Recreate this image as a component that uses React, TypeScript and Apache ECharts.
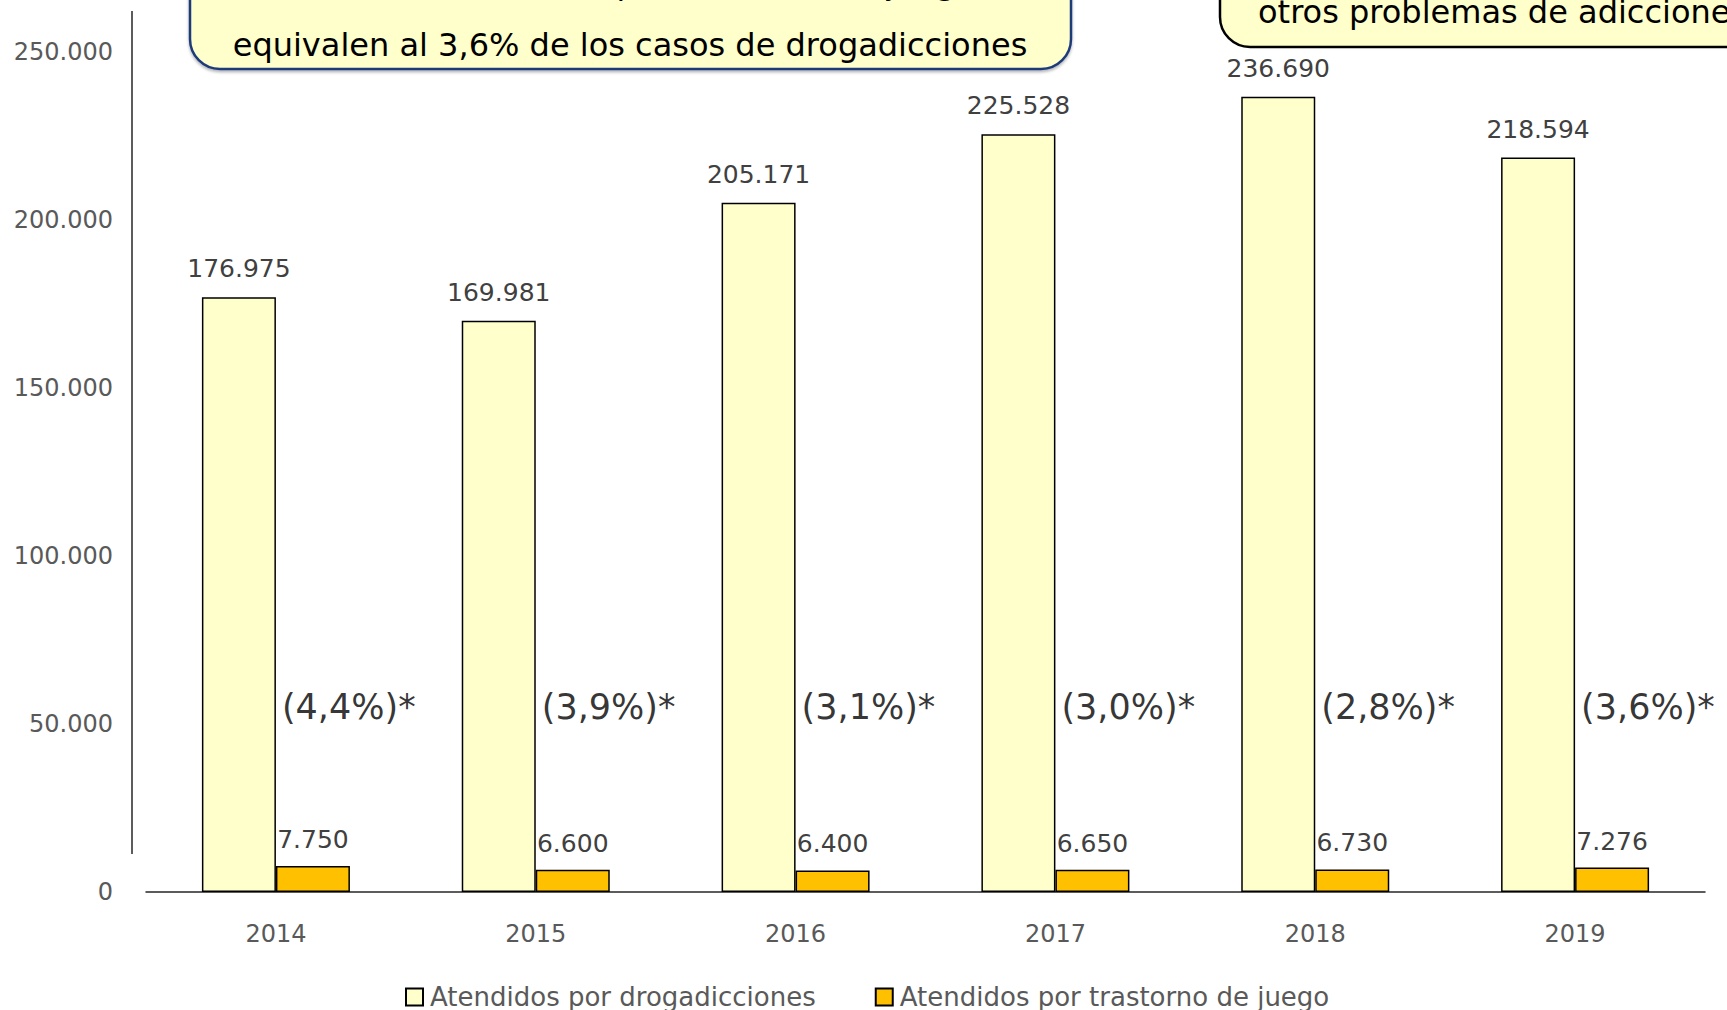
import React, { useEffect, useRef } from "react";
import * as echarts from "echarts";

const years = ["2014", "2015", "2016", "2017", "2018", "2019"];
const drugPatients = [176975, 169981, 205171, 225528, 236690, 218594];
const gamblingPatients = [7750, 6600, 6400, 6650, 6730, 7276];
const shareLabels = ["(4,4%)*", "(3,9%)*", "(3,1%)*", "(3,0%)*", "(2,8%)*", "(3,6%)*"];
const seriesNames = ["Atendidos por drogadicciones", "Atendidos por trastorno de juego"];
const leftBoxLines = ["Los casos atendidos por trastorno de juego", "equivalen al 3,6% de los casos de drogadicciones"];
const rightBoxLine = "otros problemas de adicciones";

const Y_MIN = 0;
const Y_MAX = 250000;
const Y_STEP = 50000;
const SHARE_LEVEL = 55000;

const FONT = "'DejaVu Sans', Verdana, sans-serif";

function fmt(v: number): string {
  return String(Math.round(v)).replace(/\B(?=(\d{3})+(?!\d))/g, ".");
}

export default function App() {
  const ref = useRef<HTMLDivElement>(null);
  useEffect(() => {
    document.body.style.margin = "0";
    const chart = echarts.init(ref.current!, undefined, { renderer: "svg" });
    const option: any = {
      animation: false,
      backgroundColor: "#ffffff",
      textStyle: { fontFamily: FONT },
      grid: { left: 146, right: 22, top: 52, bottom: 118, containLabel: false },
      legend: {
        data: seriesNames,
        left: 400,
        top: 979,
        itemWidth: 17,
        itemHeight: 17,
        itemGap: 59,
        icon: "rect",
        textStyle: { fontFamily: FONT, fontSize: 26, color: "#595959", padding: [0, 0, 0, 2] },
      },
      xAxis: {
        type: "category",
        data: years,
        axisLine: { show: true, lineStyle: { color: "#262626", width: 1.5 } },
        axisTick: { show: false },
        axisLabel: { fontFamily: FONT, fontSize: 24, color: "#595959", margin: 30 },
      },
      yAxis: {
        type: "value",
        min: Y_MIN,
        max: Y_MAX,
        interval: Y_STEP,
        splitLine: { show: false },
        axisLine: { show: false },
        axisTick: { show: false },
        axisLabel: {
          fontFamily: FONT,
          fontSize: 24,
          color: "#595959",
          margin: 33,
          formatter: (v: number) => fmt(v),
        },
      },
      series: [
        {
          name: seriesNames[0],
          type: "bar",
          data: drugPatients,
          barWidth: 74,
          barGap: "0%",
          itemStyle: { color: "#FFFFCC", borderColor: "#000000", borderWidth: 1.5 },
          label: {
            show: true,
            position: "top",
            distance: 16,
            fontFamily: FONT,
            fontSize: 25,
            color: "#404040",
            formatter: (p: any) => fmt(p.value),
          },
        },
        {
          name: seriesNames[1],
          type: "bar",
          data: gamblingPatients,
          barWidth: 74,
          barGap: "0%",
          itemStyle: { color: "#FFC000", borderColor: "#000000", borderWidth: 1.5 },
          label: {
            show: true,
            position: "top",
            distance: 14,
            fontFamily: FONT,
            fontSize: 25,
            color: "#404040",
            formatter: (p: any) => fmt(p.value),
          },
        },
        {
          name: "share",
          type: "scatter",
          symbolSize: 0,
          silent: true,
          data: shareLabels.map((t, i) => ({ value: [i, SHARE_LEVEL], name: t })),
          label: {
            show: true,
            position: "right",
            distance: 6,
            fontFamily: FONT,
            fontSize: 35,
            color: "#000000",
            formatter: (p: any) => p.name,
          },
        },
      ],
      graphic: [
        {
          type: "line",
          shape: { x1: 132, y1: 11, x2: 132, y2: 854 },
          style: { stroke: "#262626", lineWidth: 1.5 },
        },
        {
          type: "rect",
          shape: { x: 190, y: -90, width: 881, height: 159, r: 30 },
          style: { fill: "#FFFFCC", stroke: "#1F3A7A", lineWidth: 2.5, shadowBlur: 3, shadowColor: "rgba(0,0,0,0.3)", shadowOffsetY: 2 },
        },
        {
          type: "text",
          style: {
            text: leftBoxLines[0],
            x: 630,
            y: -17,
            font: `32px ${FONT}`,
            fill: "#000000",
            align: "center",
            verticalAlign: "middle",
          },
        },
        {
          type: "text",
          style: {
            text: leftBoxLines[1],
            x: 630,
            y: 45,
            font: `32px ${FONT}`,
            fill: "#000000",
            align: "center",
            verticalAlign: "middle",
          },
        },
        {
          type: "rect",
          shape: { x: 1220, y: -90, width: 620, height: 137, r: 30 },
          style: { fill: "#FFFFCC", stroke: "#000000", lineWidth: 2.5 },
        },
        {
          type: "text",
          style: {
            text: rightBoxLine,
            x: 1258,
            y: 12,
            font: `32px ${FONT}`,
            fill: "#000000",
            align: "left",
            verticalAlign: "middle",
          },
        },
      ],
    };
    chart.setOption(option);
    return () => chart.dispose();
  }, []);
  return (
    <div
      ref={ref}
      style={{ position: "absolute", left: 0, top: 0, width: 1727, height: 1010 }}
    />
  );
}
